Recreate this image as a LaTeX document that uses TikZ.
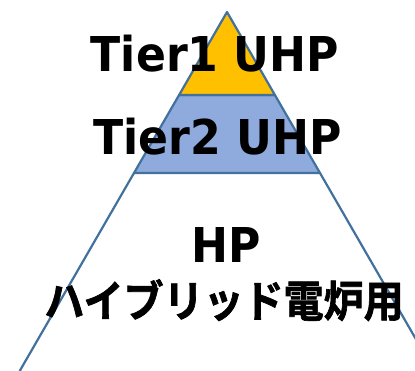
\documentclass[tikz,border=0pt]{standalone}
\usepackage{fontspec}
\newfontfamily\latinfont[FakeStretch=0.92]{DejaVu Sans Bold}
\newfontfamily\jpfont[FakeStretch=0.92,FakeBold=1.5]{Noto Sans CJK JP Bold}
\definecolor{edgeblue}{HTML}{41719C}
\definecolor{tierone}{HTML}{FFC000}
\definecolor{tiertwo}{HTML}{8FAADC}
\begin{document}
\begin{tikzpicture}[x=1pt,y=1pt,
  band/.style={draw=edgeblue,line width=2.2pt,line join=round},
  lbl/.style={anchor=base,inner sep=0pt,text=black}]
\useasboundingbox (0,0) rectangle (415,371);
\clip (0,0) rectangle (415,371);
\coordinate (apex) at (227,359);
\coordinate (l1) at (179.1,276);
\coordinate (r1) at (274.9,276);
\coordinate (l2) at (134,198);
\coordinate (r2) at (320,198);
\coordinate (l3) at (19.7,0);
\coordinate (r3) at (434.3,0);
\filldraw[band,fill=tiertwo] (l1) -- (r1) -- (r2) -- (l2) -- cycle;
\filldraw[band,fill=tierone] (apex) -- (r1) -- (l1) -- cycle;
\draw[band] (l2) -- (l3);
\draw[band] (r2) -- (r3);
\node[lbl,font=\latinfont\fontsize{48}{48}\selectfont] (t1) at (215,299) {Tier1 UHP};
\node[lbl,font=\latinfont\fontsize{48}{48}\selectfont] (t2) at (217.5,216) {Tier2 UHP};
\node[lbl,font=\latinfont\fontsize{48}{48}\selectfont] (hp) at (226.5,108) {HP};
\node[lbl,font=\jpfont\fontsize{43.5}{43.5}\selectfont] (jp) at (224,54) {ハイブリッド電炉用};
\end{tikzpicture}
\end{document}
